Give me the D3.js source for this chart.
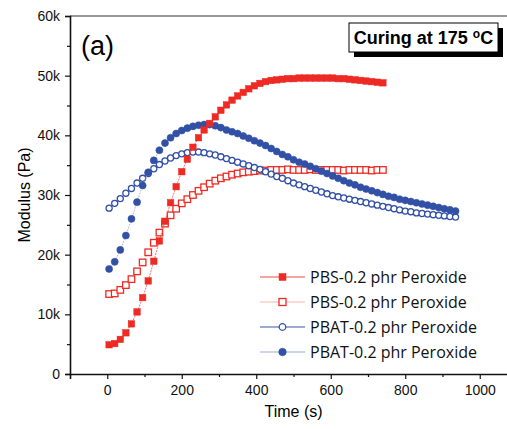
<!DOCTYPE html>
<html>
<head>
<meta charset="utf-8">
<script src="https://cdn.jsdelivr.net/npm/d3@7"></script>
<style>
  body { margin: 0; background: #fff; }
  svg { display: block; }
</style>
</head>
<body>
<script>
// time points (s), shared by all four runs
const timeS = [5, 20, 35, 50, 65, 80, 95, 110, 125, 140, 155, 170, 185, 200, 215, 230, 245, 260, 275, 290,
    305, 320, 335, 350, 365, 380, 395, 410, 425, 440, 455, 470, 485, 500, 515, 530, 545, 560, 575, 590,
    605, 620, 635, 650, 665, 680, 695, 710, 725, 740, 755, 770, 785, 800, 815, 830, 845, 860, 875, 890,
    905, 920, 935];

// modulus in kPa
const pbsFilled = [4.9, 5.1, 5.8, 6.9, 8.4, 10.4, 12.8, 15.6, 18.9, 22.3, 25.6, 28.7, 31.4, 33.9, 36.0, 38.0,
    39.6, 40.9, 42.0, 43.1, 44.2, 45.1, 45.9, 46.6, 47.2, 47.8, 48.3, 48.7, 49.0, 49.2, 49.3, 49.4, 49.5,
    49.5, 49.6, 49.6, 49.6, 49.6, 49.6, 49.6, 49.6, 49.5, 49.5, 49.4, 49.3, 49.2, 49.1, 49.0, 48.9, 48.8];
const pbsOpen = [13.4, 13.5, 14.1, 14.9, 15.9, 17.2, 18.7, 20.4, 22.0, 23.7, 25.2, 26.6, 27.7, 28.6, 29.3,
    30.0, 30.7, 31.3, 31.9, 32.4, 32.8, 33.1, 33.4, 33.6, 33.8, 33.9, 34.0, 34.1, 34.1, 34.2, 34.2, 34.2,
    34.3, 34.2, 34.2, 34.2, 34.3, 34.2, 34.2, 34.2, 34.2, 34.2, 34.1, 34.2, 34.2, 34.2, 34.2, 34.1, 34.2, 34.2];
const pbatOpen = [27.8, 28.6, 29.4, 30.3, 31.1, 32.0, 32.8, 33.6, 34.4, 35.1, 35.7, 36.2, 36.6, 36.9, 37.1,
    37.2, 37.2, 37.1, 36.9, 36.7, 36.4, 36.1, 35.8, 35.5, 35.2, 34.9, 34.6, 34.3, 33.9, 33.5, 33.1, 32.8,
    32.4, 32.0, 31.7, 31.4, 31.1, 30.8, 30.5, 30.2, 29.9, 29.7, 29.5, 29.3, 29.1, 28.9, 28.7, 28.5, 28.3,
    28.1, 27.9, 27.7, 27.5, 27.3, 27.2, 27.0, 26.9, 26.8, 26.7, 26.6, 26.5, 26.4, 26.3];
const pbatFilled = [17.6, 18.8, 20.8, 23.2, 26.0, 28.8, 31.6, 33.8, 35.8, 37.5, 38.7, 39.6, 40.3, 40.8, 41.2,
    41.5, 41.7, 41.8, 41.8, 41.6, 41.3, 40.9, 40.6, 40.3, 39.9, 39.5, 39.1, 38.7, 38.3, 37.8, 37.3, 36.8,
    36.4, 35.9, 35.5, 35.2, 34.8, 34.4, 34.0, 33.6, 33.2, 32.8, 32.4, 32.0, 31.7, 31.3, 31.0, 30.7, 30.4,
    30.1, 29.8, 29.6, 29.3, 29.1, 28.9, 28.7, 28.5, 28.3, 28.1, 27.9, 27.7, 27.5, 27.3];

const xTicks = [0, 200, 400, 600, 800, 1000];
const xMinor = [100, 300, 500, 700, 900, 1100];
const yTicks = [0, 10, 20, 30, 40, 50, 60];
const yMinor = [5, 15, 25, 35, 45, 55];
const legendLabels = ["PBS-0.2 phr Peroxide", "PBS-0.2 phr Peroxide", "PBAT-0.2 phr Peroxide", "PBAT-0.2 phr Peroxide"];

const w = 507, h = 429;
const red = "#ee2a24", blue = "#3150a6";

const series = [
    { name: legendLabels[0], values: pbsFilled, shape: "square", filled: true, color: red, line: "#ee4a44" },
    { name: legendLabels[1], values: pbsOpen, shape: "square", filled: false, color: red, line: "#f5b3b0" },
    { name: legendLabels[2], values: pbatOpen, shape: "circle", filled: false, color: blue, line: "#3d58a8" },
    { name: legendLabels[3], values: pbatFilled, shape: "circle", filled: true, color: blue, line: "#a3aad4" }
];

const x = d3.scaleLinear().domain([-100, 1100]).range([70, 517]);
const y = d3.scaleLinear().domain([0, 60]).range([374, 16]);

const svg = d3.select("body").append("svg")
    .attr("width", w)
    .attr("height", h)
    .style("font-family", "'Liberation Sans', Arial, sans-serif");

// top frame line
svg.append("line")
    .attr("x1", x(-100)).attr("x2", x(1100))
    .attr("y1", y(60)).attr("y2", y(60))
    .attr("stroke", "#333").attr("stroke-width", 1.2);

// axes
svg.append("g")
    .attr("transform", `translate(0,${y(0)})`)
    .call(d3.axisBottom(x).tickValues(xTicks).tickSize(5).tickPadding(6).tickFormat(d3.format("d")));
svg.append("g")
    .attr("transform", `translate(0,${y(0)})`)
    .call(d3.axisBottom(x).tickValues(xMinor).tickSize(3).tickFormat(""))
    .call(g => g.select(".domain").remove());

svg.append("g")
    .attr("transform", `translate(${x(-100)},0)`)
    .call(d3.axisLeft(y).tickValues(yTicks).tickSize(5).tickPadding(5)
        .tickFormat(d => d === 0 ? "0" : d + "k"));
svg.append("g")
    .attr("transform", `translate(${x(-100)},0)`)
    .call(d3.axisLeft(y).tickValues(yMinor).tickSize(3).tickFormat(""))
    .call(g => g.select(".domain").remove());

svg.selectAll(".domain").attr("stroke", "#111").attr("stroke-width", 1.6);
svg.selectAll(".tick line").attr("stroke", "#111").attr("stroke-width", 1.2);
svg.selectAll(".tick text").attr("font-size", 14).attr("fill", "#111")
    .attr("font-family", "'Liberation Sans', Arial, sans-serif");

// axis titles
svg.append("text")
    .attr("transform", `translate(24,${(y(0) + y(60)) / 2}) rotate(-90)`)
    .attr("text-anchor", "middle")
    .attr("dominant-baseline", "central")
    .attr("font-size", 16)
    .text("Modulus (Pa)");

svg.append("text")
    .attr("x", (x(-100) + x(1100)) / 2)
    .attr("y", 417)
    .attr("text-anchor", "middle")
    .attr("font-size", 16)
    .text("Time (s)");

// panel label
svg.append("text")
    .attr("x", 81).attr("y", 55)
    .attr("font-size", 27)
    .text("(a)");

// curing note box with shadow
const note = svg.append("g");
note.append("rect")
    .attr("x", 354).attr("y", 28).attr("width", 149).attr("height", 29)
    .attr("fill", "#000");
note.append("rect")
    .attr("x", 349).attr("y", 23).attr("width", 149).attr("height", 29)
    .attr("fill", "#fff").attr("stroke", "#000").attr("stroke-width", 1);
const noteText = note.append("text")
    .attr("x", 423.5).attr("y", 44)
    .attr("text-anchor", "middle")
    .attr("font-size", 18)
    .attr("font-weight", "bold")
    .text("Curing at 175 ");
noteText.append("tspan").attr("font-size", 12).attr("dy", -6).text("o");
noteText.append("tspan").attr("dy", 6).text("C");

// data
function drawMarker(sel, s, size) {
    if (s.shape === "square") {
        sel.append("rect")
            .attr("x", -size / 2).attr("y", -size / 2)
            .attr("width", size).attr("height", size)
            .attr("fill", s.filled ? s.color : "#fff")
            .attr("stroke", s.color)
            .attr("stroke-width", s.filled ? 0.5 : 1.3);
    } else {
        sel.append("circle")
            .attr("r", s.filled ? size / 2 + 0.3 : size / 2 - 0.2)
            .attr("fill", s.filled ? s.color : "#fff")
            .attr("stroke", s.color)
            .attr("stroke-width", s.filled ? 0.5 : 1.3);
    }
}

const line = d3.line()
    .x((d, i) => x(timeS[i]))
    .y(d => y(d));

const drawOrder = [1, 2, 3, 0];
drawOrder.forEach(k => {
    const s = series[k];
    svg.append("path")
        .datum(s.values)
        .attr("d", line)
        .attr("fill", "none")
        .attr("stroke", s.line)
        .attr("stroke-width", 0.8)
        .attr("stroke-dasharray", "2,1");

    svg.append("g").selectAll("g")
        .data(s.values)
        .join("g")
        .attr("transform", (d, i) => `translate(${x(timeS[i])},${y(d)})`)
        .each(function () { drawMarker(d3.select(this), s, 6.5); });
});

// legend
const legend = svg.append("g").attr("transform", "translate(260,277)");
series.forEach((s, i) => {
    const row = legend.append("g").attr("transform", `translate(0,${i * 25})`);
    row.append("line")
        .attr("x1", 0).attr("x2", 45)
        .attr("stroke", s.line).attr("stroke-width", 1.2);
    const m = row.append("g").attr("transform", "translate(22.5,0)");
    drawMarker(m, s, 7);
    row.append("text")
        .attr("x", 50).attr("y", 0)
        .attr("dominant-baseline", "central")
        .attr("font-family", "'Open Sans', sans-serif")
        .attr("font-size", 16)
        .attr("fill", "#111")
        .text(s.name);
});
</script>
</body>
</html>
